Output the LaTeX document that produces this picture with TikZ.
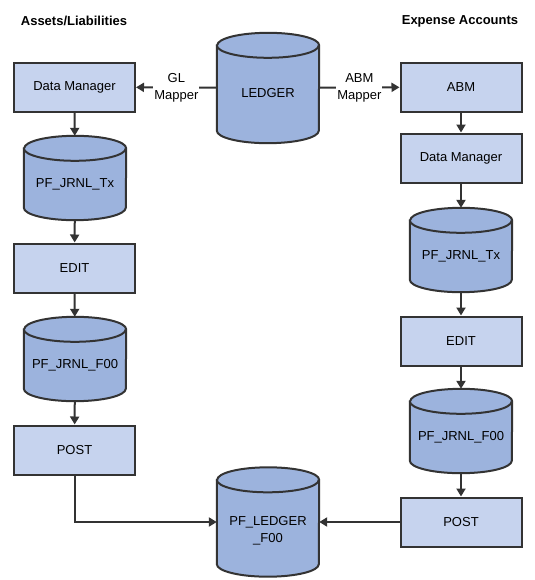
\documentclass[tikz,border=0pt]{standalone}
\usepackage{fontspec}
\setmainfont{Liberation Sans}
\usetikzlibrary{positioning,calc,arrows.meta,backgrounds}

\definecolor{boxcol}{rgb}{0.776,0.827,0.933}
\definecolor{dbcol}{rgb}{0.612,0.702,0.867}
\definecolor{linecol}{rgb}{0.2,0.2,0.2}

% cylinder outline behind a named db node
\newcommand\dbshape[1]{%
  \filldraw[dbline] ($(#1.north west)+(0,-12.5bp)$) -- ($(#1.south west)+(0,12.5bp)$)
    arc[start angle=180,end angle=360,x radius=51bp,y radius=12.5bp]
    -- ($(#1.north east)+(0,-12.5bp)$)
    arc[start angle=0,end angle=180,x radius=51bp,y radius=12.5bp] -- cycle;
  \draw[dbline] ($(#1.north west)+(0,-12.5bp)$)
    arc[start angle=180,end angle=360,x radius=51bp,y radius=12.5bp];}

\tikzset{
  stepbox/.style={draw=linecol,fill=boxcol,line width=2bp,minimum width=121bp,minimum height=49bp,inner sep=0pt},
  db/.style={inner sep=0pt,minimum width=102bp,minimum height=84bp,text height=19bp,text depth=0pt},
  dbline/.style={draw=linecol,fill=dbcol,line width=2bp},
  title/.style={font=\fontsize{13bp}{16bp}\selectfont\bfseries},
  maplabel/.style={fill=white,inner sep=1bp,align=center},
  flow/.style={->,draw=linecol,line width=2bp}
}

\begin{document}
\begin{tikzpicture}[>={Triangle[length=8bp,width=9bp]},line join=miter,
    font=\fontsize{13bp}{17bp}\selectfont]
  \useasboundingbox (0bp,0bp) rectangle (535bp,-580bp);
  %%
  % Node: titles
  \node[title] (assets) at (74bp,-21bp) {Assets/Liabilities};
  \node[title] (expense) at (460bp,-21bp) {Expense Accounts};
  % Node: ledger
  \node[db,minimum height=110bp] (ledger) at (268bp,-88bp) {LEDGER};
  % Node: left column
  \node[stepbox] (dmA) at (74.5bp,-87bp) {Data Manager};
  \node[db] (txA) at (75bp,-178bp) {PF\_JRNL\_Tx};
  \node[stepbox] (editA) at (74.5bp,-268bp) {EDIT};
  \node[db] (f00A) at (75bp,-359bp) {PF\_JRNL\_F00};
  \node[stepbox] (postA) at (74.5bp,-450bp) {POST};
  % Node: right column
  \node[stepbox] (abmB) at (461bp,-87bp) {ABM};
  \node[stepbox] (dmB) at (461bp,-158bp) {Data Manager};
  \node[db] (txB) at (461bp,-250bp) {PF\_JRNL\_Tx};
  \node[stepbox] (editB) at (461bp,-341bp) {EDIT};
  \node[db] (f00B) at (461bp,-431bp) {PF\_JRNL\_F00};
  \node[stepbox] (postB) at (461bp,-522bp) {POST};
  % Node: pf_ledger_f00
  \node[db,minimum height=109bp,text height=41.5bp,align=center] (ledgerF) at (268bp,-522bp) {PF\_LEDGER\\\_F00};
  %
  \begin{pgfonlayer}{background}
    \foreach \n in {ledger,txA,f00A,txB,f00B,ledgerF} {\dbshape{\n}}
  \end{pgfonlayer}
  %
  % Edge: ledger -> dmA
  \draw[flow] (ledger) -- node[maplabel] {GL\\Mapper} (dmA);
  % Edge: ledger -> abmB
  \draw[flow] (ledger) -- node[maplabel] {ABM\\Mapper} (abmB);
  % Edge: left column
  \draw[flow] (dmA) -- (txA);
  \draw[flow] (txA) -- (editA);
  \draw[flow] (editA) -- (f00A);
  \draw[flow] (f00A) -- (postA);
  \draw[flow] (postA) |- (ledgerF);
  % Edge: right column
  \draw[flow] (abmB) -- (dmB);
  \draw[flow] (dmB) -- (txB);
  \draw[flow] (txB) -- (editB);
  \draw[flow] (editB) -- (f00B);
  \draw[flow] (f00B) -- (postB);
  \draw[flow] (postB) -- (ledgerF);
  %
\end{tikzpicture}
\end{document}
